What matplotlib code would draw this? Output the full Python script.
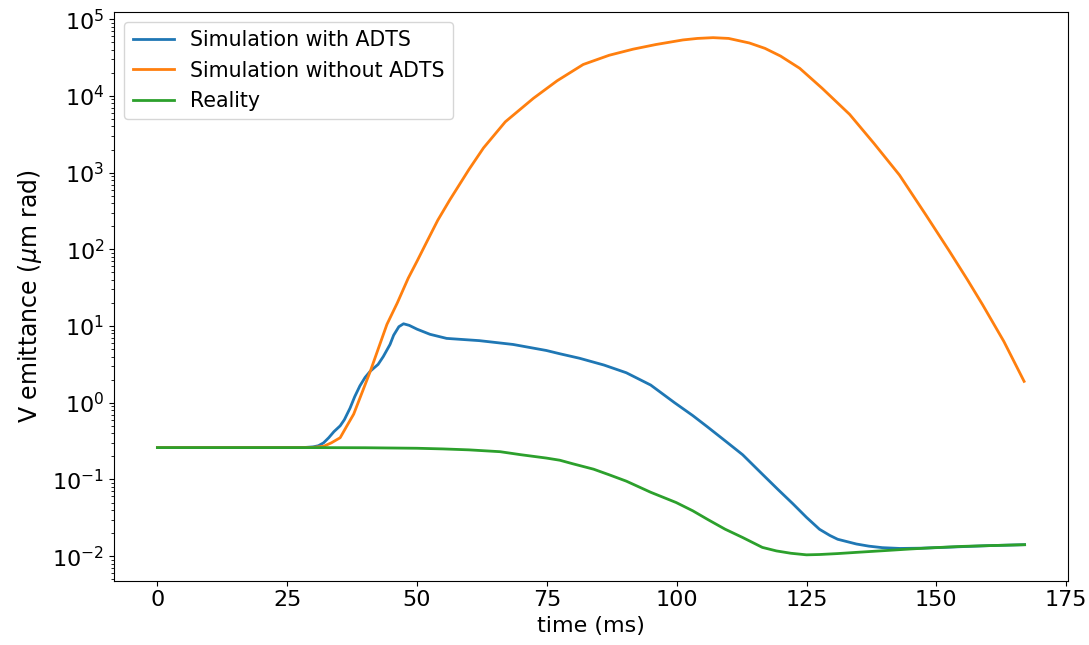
import numpy as np
import matplotlib
matplotlib.use("Agg")
import matplotlib.pyplot as plt

# time (ms) and V emittance (um rad)
t_adts = [0, 25, 28, 30, 31, 32, 33, 34, 35.2, 36, 37.1, 38, 39, 40, 41, 42.5,
          43.5, 44.8, 45.5, 46.5, 47.4, 48.5, 50, 52.5, 55.7, 62, 68.5, 74.9,
          77.5, 81.3, 86, 90.3, 95, 99.6, 103.1, 106, 109.3, 112.7, 116.5,
          119.5, 122.4, 125, 127.5, 129.5, 131, 134.6, 137, 139.6, 143, 147,
          150, 155, 160, 167]
v_adts = [0.26, 0.26, 0.26, 0.266, 0.275, 0.3, 0.35, 0.42, 0.5, 0.6, 0.85, 1.2,
          1.66, 2.14, 2.58, 3.16, 4.0, 5.75, 7.6, 9.8, 10.7, 10.2, 9.1, 7.8, 6.9,
          6.45, 5.75, 4.8, 4.35, 3.8, 3.1, 2.46, 1.7, 1.0, 0.68, 0.48, 0.32,
          0.21, 0.117, 0.074, 0.048, 0.032, 0.0224, 0.0186, 0.0166, 0.0144,
          0.0135, 0.0129, 0.0126, 0.0127, 0.0129, 0.0133, 0.0137, 0.0141]

t_noadts = [0, 28, 30, 32, 33.5, 35.2, 36.5, 37.8, 39.4, 41, 42.6, 44.2, 46.2,
            48.3, 50, 52, 54, 56.3, 60, 62.8, 67, 72.4, 77, 82, 87, 91.6, 96,
            101.2, 104, 107, 110, 114, 117, 120, 123.7, 128, 133.3, 138, 142.9,
            148, 152.5, 156, 158.9, 163, 166.9]
v_noadts = [0.26, 0.26, 0.262, 0.27, 0.3, 0.35, 0.5, 0.71, 1.35, 2.57, 5.2,
            10.5, 20, 42, 70, 130, 240, 440, 1100, 2100, 4600, 9300, 15800,
            25700, 33900, 40700, 46800, 53700, 56200, 57500, 56200, 49000,
            41700, 33100, 22900, 12600, 5750, 2400, 930, 280, 95, 40, 19, 6.3,
            1.9]

t_real = [0, 30, 40, 50, 55, 60, 66, 70, 74.9, 77.5, 80, 84, 87, 90.3, 95, 99.9,
          103.1, 106, 109.3, 112.7, 116.5, 119.2, 122, 125, 127.5, 131, 134.6,
          140, 145, 149.6, 155, 160, 167]
v_real = [0.26, 0.26, 0.259, 0.255, 0.25, 0.243, 0.23, 0.21, 0.19, 0.178, 0.16,
          0.136, 0.115, 0.095, 0.068, 0.05, 0.039, 0.03, 0.0225, 0.0175, 0.013,
          0.0117, 0.0109, 0.0104, 0.0105, 0.0108, 0.0112, 0.0118, 0.0124,
          0.0129, 0.0134, 0.0137, 0.0141]

fig = plt.figure(figsize=(10.89, 6.45), dpi=100)
ax = fig.add_axes([0.1047, 0.0997, 0.876, 0.882])

ax.plot(t_adts, v_adts, lw=2.0, label="Simulation with ADTS")
ax.plot(t_noadts, v_noadts, lw=2.0, label="Simulation without ADTS")
ax.plot(t_real, v_real, lw=2.0, label="Reality")

ax.set_yscale("log")
ax.set_xlabel("time (ms)", fontsize=16)
ax.set_ylabel(r"V emittance ($\mu$m rad)", fontsize=17, labelpad=6)
ax.tick_params(labelsize=16)
ax.legend(fontsize=14.8, loc="upper left")

fig.savefig("out.png", dpi=100)
